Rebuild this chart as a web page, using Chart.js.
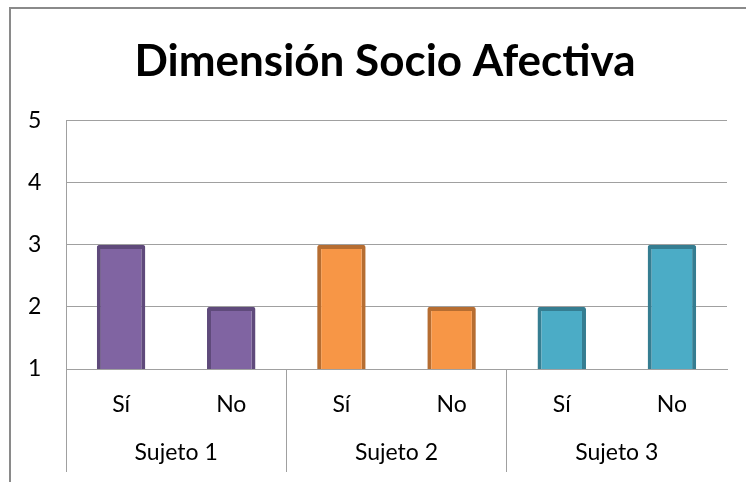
<!DOCTYPE html>
<html>
<head>
<meta charset="utf-8">
<script src="https://cdn.jsdelivr.net/npm/chart.js@4"></script>
<style>
  body { margin: 0; background: #fff; overflow: hidden; }
  #frame { position: absolute; left: 9px; top: 7px; width: 800px; height: 600px; border: 2px solid #8a8a8a; }
  #wrap { position: absolute; left: 0; top: 0; width: 746px; height: 482px; }
</style>
</head>
<body>
<div id="frame"></div>
<div id="wrap"><canvas id="chart" width="746" height="482"></canvas></div>
<script>
// categorias y valores
var categories = ['Sí', 'No', 'Sí', 'No', 'Sí', 'No'];
var groups = ['Sujeto 1', 'Sujeto 2', 'Sujeto 3'];
var values = [3, 2, 3, 2, 2, 3];
var yTicks = [1, 2, 3, 4, 5];

// colores por sujeto
var fillColors = ['#8064a2', '#f79646', '#4bacc6'];
var lineColors = ['#5f4a7b', '#b66d31', '#357d91'];

var gridGray = '#a0a0a0';
var tickFont = { family: 'Lato', size: 23 };

const ctx = document.getElementById('chart').getContext('2d');
const myChart = new Chart(ctx, {
    type: 'bar',
    data: {
        labels: categories,
        datasets: [{
            data: values,
            backgroundColor: (c) => fillColors[Math.floor(c.index / 2)],
            borderColor: (c) => lineColors[Math.floor(c.index / 2)],
            borderWidth: 4,
            borderSkipped: false,
            borderRadius: 2,
            categoryPercentage: 1,
            barPercentage: 0.44,
        }],
    },
    options: {
        responsive: false,
        animation: false,
        layout: {
            padding: { left: 43, right: 19, top: 0, bottom: 15 },
        },
        plugins: {
            legend: { display: false },
            tooltip: { enabled: false },
            title: {
                display: true,
                text: 'Dimensión Socio Afectiva',
                color: '#000',
                font: { family: 'Lato', size: 44, weight: 'bold' },
                padding: { top: 35, bottom: 33 },
            },
        },
        scales: {
            x: {
                position: 'bottom',
                offset: true,
                afterFit: (scale) => { scale.height = 50; },
                grid: {
                    offset: true,
                    drawOnChartArea: false,
                    tickLength: 103,
                    color: (c) => c.index % 2 === 0 ? gridGray : 'rgba(0,0,0,0)',
                },
                border: { color: gridGray },
                ticks: {
                    padding: -81,
                    color: '#000',
                    font: tickFont,
                    maxRotation: 0,
                },
            },
            x2: {
                type: 'category',
                position: 'bottom',
                labels: groups,
                offset: true,
                afterFit: (scale) => { scale.height = 48; },
                grid: { display: false, drawTicks: false },
                border: { display: false },
                ticks: {
                    padding: 20,
                    color: '#000',
                    font: tickFont,
                    maxRotation: 0,
                },
            },
            y: {
                min: yTicks[0],
                max: yTicks[yTicks.length - 1],
                afterFit: (scale) => { scale.width = 23; },
                afterBuildTicks: (scale) => { scale.ticks = yTicks.map(v => ({ value: v })); },
                grid: { color: gridGray, drawTicks: false },
                border: { color: gridGray },
                ticks: {
                    mirror: true,
                    padding: -38,
                    color: '#000',
                    font: tickFont,
                },
            },
        },
    },
});
</script>
</body>
</html>
